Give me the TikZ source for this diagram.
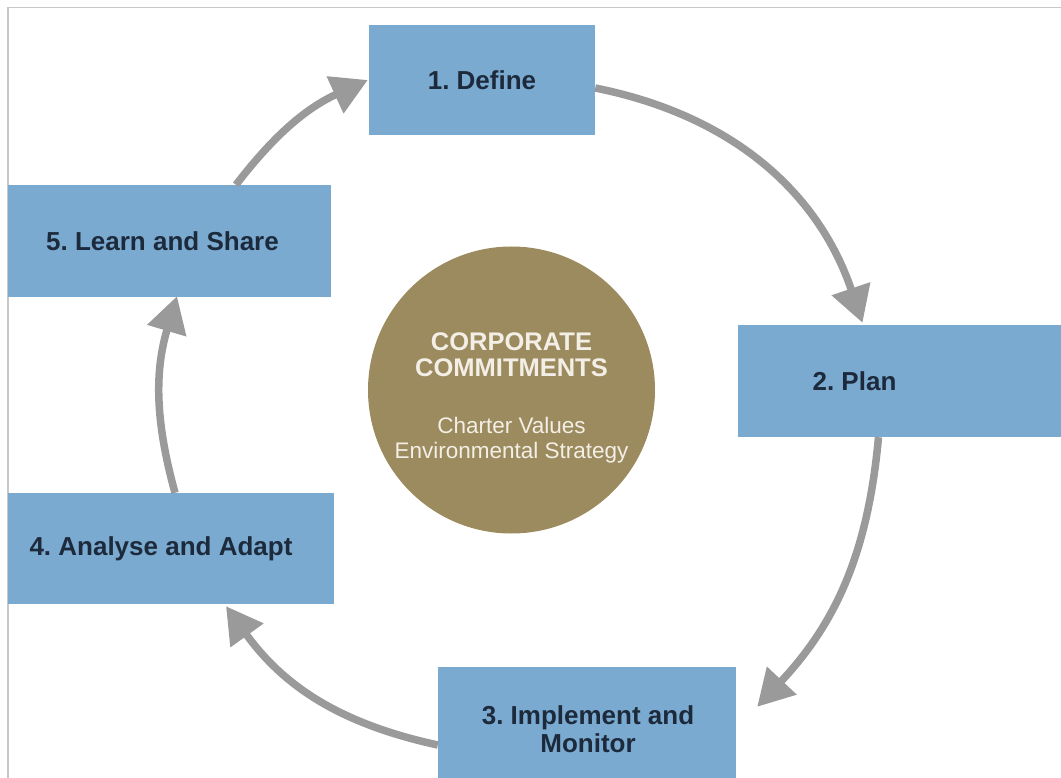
\documentclass[tikz,border=0pt]{standalone}
\usepackage{fontspec}
\setmainfont{Liberation Sans}
\usetikzlibrary{arrows.meta}
\frenchspacing
\definecolor{boxblue}{HTML}{7BAAD0}
\definecolor{goldc}{HTML}{9C8B5E}
\definecolor{txtdark}{HTML}{1C2A3C}
\definecolor{circtxt}{HTML}{F3EFE6}
\definecolor{arrgray}{HTML}{9A9A9A}
\definecolor{bordgray}{HTML}{C8C8C8}
\tikzset{
  stagebox/.style={fill=boxblue, draw=none, inner sep=0pt, align=center,
    text=txtdark, font=\fontsize{26}{28}\selectfont\bfseries},
  stagetext/.style={inner sep=0pt, align=center, text=txtdark,
    font=\fontsize{26}{28}\selectfont\bfseries},
  cyclearrow/.style={draw=arrgray, line width=7.5pt,
    -{Triangle[length=36pt,width=39pt]}, bend left=#1},
  circtitle/.style={inner sep=0pt, align=center, text=circtxt,
    font=\fontsize{25.5}{26}\selectfont\bfseries},
  circsub/.style={inner sep=0pt, align=center, text=circtxt,
    font=\fontsize{22.5}{25}\selectfont}
}
\begin{document}
\begin{tikzpicture}[x=1pt,y=-1pt]
\useasboundingbox (0,0) rectangle (1061,778);
\fill[white] (0,0) rectangle (1061,778);
% thin frame
\draw[bordgray, line width=1.5pt] (1061,7.5) -- (8,7.5) -- (8,778);
% central circle
\node[circle, fill=goldc, minimum size=287pt, inner sep=0pt] (c) at (511.5,390) {};
\node[circtitle] (ct) at ([yshift=35pt]c.center) {CORPORATE\\COMMITMENTS};
\node[circsub] (cs) at ([yshift=-50pt]c.center) {Charter Values\\Environmental Strategy};
% stage boxes
\node[stagebox, minimum width=226pt, minimum height=110pt] (b1) at (482,80) {1. Define};
\node[stagebox, minimum width=323pt, minimum height=112pt] (b5) at (169.5,241) {};
\node[stagetext] (t5) at ([xshift=-7pt]b5.center) {5. Learn and Share};
\node[stagebox, minimum width=323pt, minimum height=112pt] (b2) at (899.5,381) {};
\node[stagetext] (t2) at ([xshift=-45pt]b2.center) {2. Plan};
\node[stagebox, minimum width=326pt, minimum height=111pt] (b4) at (171,548.5) {};
\node[stagetext] (t4) at ([xshift=-10pt]b4.center) {4. Analyse and Adapt};
\node[stagebox, minimum width=298pt, minimum height=111pt] (b3) at (587,722.5) {};
\node[stagetext] (t3) at ([xshift=1pt,yshift=-7pt]b3.center) {3. Implement and\\Monitor};
% arrows
\draw[cyclearrow=14] ([xshift=66.5pt]b5.north) to ([xshift=-1pt]b1.west);
\draw[cyclearrow=30] ([yshift=-8pt]b1.east) to ([xshift=-37pt,yshift=2pt]b2.north);
\draw[cyclearrow=19] ([xshift=-21pt]b2.south) to ([xshift=21pt,yshift=-40pt]b3.north east);
\draw[cyclearrow=21] ([yshift=-22.5pt]b3.west) to ([xshift=55pt,yshift=-2pt]b4.south);
\draw[cyclearrow=16] ([xshift=4pt]b4.north) to ([xshift=7.5pt,yshift=1pt]b5.south);
\end{tikzpicture}
\end{document}
